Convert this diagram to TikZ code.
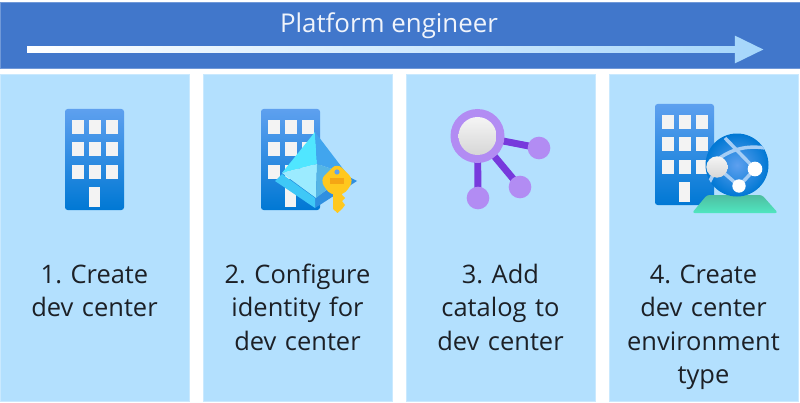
\documentclass[tikz,border=0pt]{standalone}
\usepackage{fontspec}
\setmainfont{Open Sans}
\frenchspacing
\usetikzlibrary{positioning,shapes.arrows}
\definecolor{bannerblue}{RGB}{65,119,203}
\definecolor{panelblue}{RGB}{179,224,254}
\definecolor{ink}{RGB}{28,32,38}
\definecolor{flowmid}{RGB}{128,198,251}
\definecolor{flowtip}{RGB}{165,214,251}
\definecolor{towertop}{RGB}{94,160,239}
\definecolor{towerlow}{RGB}{0,120,212}
\definecolor{pane}{RGB}{243,243,243}
\definecolor{gemcyan}{RGB}{80,230,255}
\definecolor{gempale}{RGB}{156,235,255}
\definecolor{gemblue}{RGB}{65,165,238}
\definecolor{gemsky}{RGB}{85,181,229}
\definecolor{rimcyan}{RGB}{63,200,247}
\definecolor{rimblue}{RGB}{47,143,224}
\definecolor{orbpurple}{RGB}{178,140,243}
\definecolor{linkpurple}{RGB}{119,58,220}
\definecolor{keygold}{RGB}{255,200,30}
\definecolor{keyorange}{RGB}{245,166,20}
\definecolor{basegreen}{RGB}{78,190,160}
\definecolor{basemint}{RGB}{80,230,192}
\definecolor{roadblue}{RGB}{165,205,245}
\tikzset{
  panel/.style={fill=panelblue, draw=panelblue!70!white, line width=0.6pt, outer sep=0pt, minimum width=141.75pt, minimum height=245.25pt, inner sep=0pt},
  lbl/.style={font=\fontsize{19.1}{25}\selectfont, text=ink, align=center, text width=140pt, inner sep=0pt, execute at begin node=\strut},
  orb/.style={circle, inner sep=0pt, minimum size=#1, fill=orbpurple},
  hub/.style={circle, inner sep=0pt, minimum size=#1, top color=white!96!black, bottom color=white!84!black},
  link/.style={draw=linkpurple, line width=5.2pt},
  road/.style={draw=roadblue, line width=2.6pt},
  dot/.style={circle, inner sep=0pt, minimum size=#1, fill=white},
  tower/.pic={
    \shade[top color=towertop, bottom color=towerlow, rounded corners=2pt] (0,0) rectangle (59,101);
    \foreach \row in {11,33,56}
      \foreach \col in {7,24,41}
        \fill[pane] (\col,\row) rectangle ++(11.5,14);
    \fill[pane] (24,78) rectangle ++(11,20);
  }
}
\begin{document}
\begin{tikzpicture}[x=0.75pt, y=-0.75pt]
  \useasboundingbox (0,0) rectangle (800,403);
  \node[fill=bannerblue, draw=bannerblue!75!white, line width=0.6pt, minimum width=600pt, minimum height=50pt, inner sep=0pt] (banner) at (400,35.5) {};
  \node[font=\fontsize{19.4}{25}\selectfont, text=white!92!bannerblue, inner sep=0pt, anchor=base] (role) at (389,33) {Platform engineer};
  \node[single arrow, shape border rotate=0, minimum height=552pt, minimum width=20.6pt, single arrow head extend=8pt, single arrow tip angle=52, single arrow head indent=0pt, inner sep=0pt, text height=4.5pt, text depth=0pt, left color=white, middle color=flowmid, right color=flowtip] (flowline) at (392,49.5) {};

  \node[panel] (p1) at (94.5,237.5) {};
  \node[panel, right=10.5pt of p1] (p2) {};
  \node[panel, right=10.5pt of p2] (p3) {};
  \node[panel, right=10.5pt of p3] (p4) {};

  \node[lbl, below=139.3pt of p1.north] (t1) {1. Create\\ dev center};
  \node[lbl, below=139.3pt of p2.north] (t2) {2. Configure\\ identity for\\ dev center};
  \node[lbl, below=139.3pt of p3.north] (t3) {3. Add\\ catalog to\\ dev center};
  \node[lbl, below=139.3pt of p4.north] (t4) {4. Create\\ dev center\\ environment\\ type};

  \pic at (65,109) {tower};
  \pic at (261,109) {tower};
  \pic at (655,104) {tower};

  % identity
  \fill[rimblue] (357,181) -- (315,208) -- (315,198) -- (347,176) -- cycle;
  \fill[rimcyan] (275,181) -- (315,208) -- (315,198) -- (282,174) -- cycle;
  \fill[gemcyan] (315,132) -- (282,173) -- (317,164) -- cycle;
  \fill[gempale] (282,173) -- (317,164) -- (316,198) -- cycle;
  \fill[gemblue] (315,132) -- (317,164) -- (347,174) -- cycle;
  \fill[gemsky] (317,164) -- (347,174) -- (316,198) -- cycle;
  \fill[keygold, rounded corners=5pt] (337,163) -- (354,180) -- (344,195) -- (330,195) -- (320,180) -- cycle;
  \fill[keygold] (333,190) -- (342,190) -- (342,195) -- (345,198) -- (342,201) -- (345,205) -- (342,209) -- (337.5,213) -- (333,209) -- cycle;
  \fill[keyorange] (330,178) rectangle (344,184);
  \fill[towertop] (337,172) circle (2.6);

  % catalog
  \coordinate (c0) at (477.5,136);
  \coordinate (c1) at (539,148);
  \coordinate (c2) at (520,187);
  \coordinate (c3) at (478,198);
  \draw[link] (c0) -- (c1);
  \draw[link] (c0) -- (c2);
  \draw[link] (c0) -- (c3);
  \node[orb=40.5pt] (cat) at (c0) {};
  \node[orb=17pt] (s1) at (c1) {};
  \node[orb=17pt] (s2) at (c2) {};
  \node[orb=17pt] (s3) at (c3) {};
  \node[hub=28.5pt] (core) at (c0) {};

  % environment
  \shade[top color=basegreen, bottom color=basemint, rounded corners=2pt] (707,195) -- (762,195) -- (778,213) -- (692,213) -- cycle;
  \shade[inner color=towertop, outer color=towerlow] (737,165) circle (31.5);
  \begin{scope}
    \clip (737,165) circle (31.5);
    \draw[road] (717,167) -- (739,186) -- (755,169);
    \draw[road] (725,138) -- (755,169);
    \draw[road] (717,160) .. controls (730,150) and (745,145) .. (765,148);
    \draw[road] (717,167) -- (707,187);
  \end{scope}
  \node[hub=16pt] (env) at (717,167) {};
  \node[dot=11pt] (d1) at (755,169) {};
  \node[dot=10pt] (d2) at (739,186) {};
\end{tikzpicture}
\end{document}
